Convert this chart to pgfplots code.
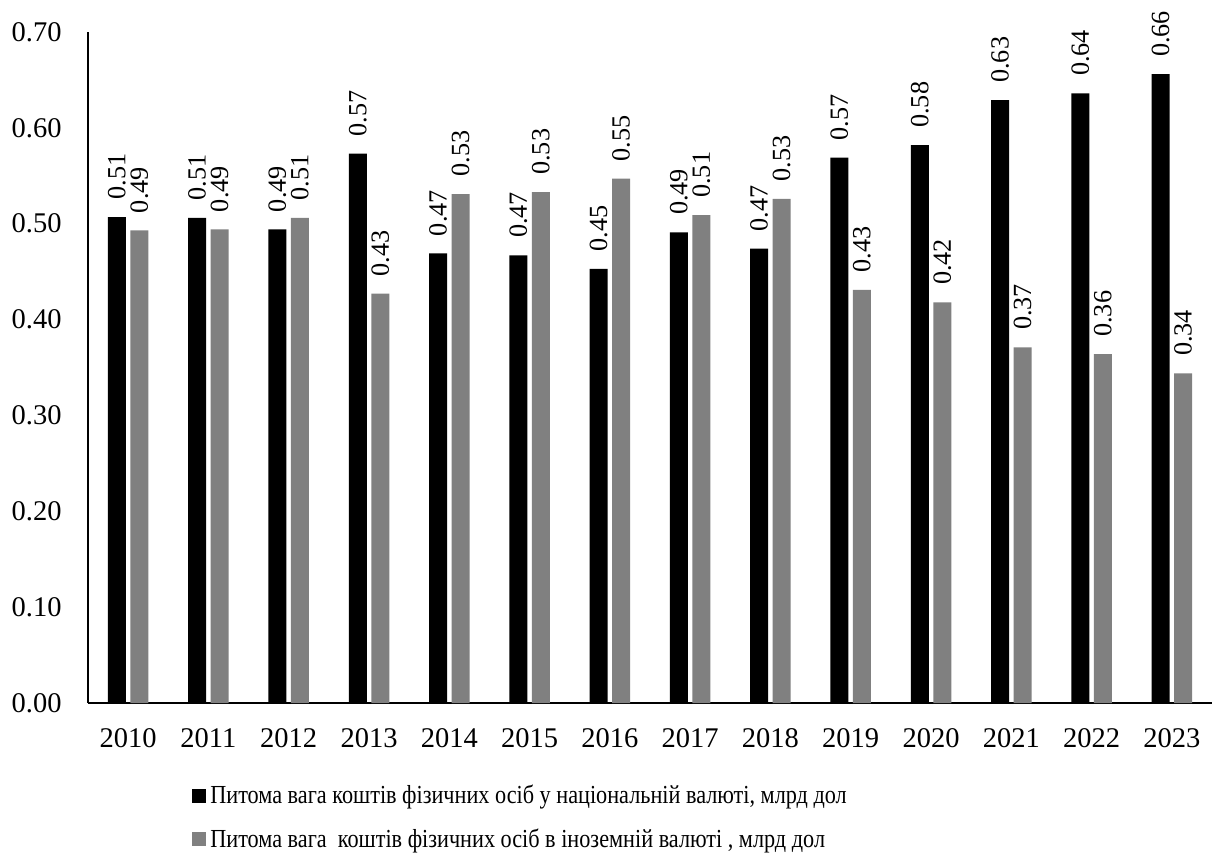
\documentclass[border=0pt]{standalone}
\usepackage{pgfplots}
\pgfplotsset{compat=1.18}
\usepackage{pgfplotstable}
\usepackage{fontspec}
\setmainfont{Liberation Serif}
\newfontfamily\tnr{Liberation Serif}
\newfontfamily\tnrc[FakeStretch=0.855]{Liberation Serif}
\usetikzlibrary{calc}

\pgfplotstableread{
x a b
0 0.507 0.493
1 0.506 0.494
2 0.494 0.506
3 0.573 0.427
4 0.469 0.531
5 0.467 0.533
6 0.453 0.547
7 0.491 0.509
8 0.474 0.526
9 0.569 0.431
10 0.582 0.418
11 0.629 0.371
12 0.636 0.364
13 0.656 0.344
}\data

\definecolor{grayb}{HTML}{808080}

\begin{document}
\begin{tikzpicture}
\begin{axis}[
  scale only axis, width=562bp, height=335.5bp,
  xmin=-0.5, xmax=13.5, ymin=0, ymax=0.7,
  ybar=2.25bp, bar width=9bp,
  axis lines=left, axis line style={-, line width=0.75bp},
  major tick length=0pt,
  xtick={0,...,13},
  xticklabels={2010,2011,2012,2013,2014,2015,2016,2017,2018,2019,2020,2021,2022,2023},
  ytick={0,0.1,...,0.7},
  /pgf/number format/assume math mode=true,
  yticklabel style={/pgf/number format/fixed, /pgf/number format/precision=2, /pgf/number format/fixed zerofill, inner sep=0pt, xshift=-13bp},
  xticklabel style={inner sep=0pt, yshift=-12.5bp},
  tick label style={font=\tnr\fontsize{14.25bp}{17bp}\selectfont},
  nodes near coords,
  nodes near coords style={rotate=90, anchor=west, inner xsep=8.5bp, inner ysep=0pt,
    font=\tnr\fontsize{13.1bp}{15bp}\selectfont,
    /pgf/number format/fixed, /pgf/number format/precision=2, /pgf/number format/fixed zerofill, /pgf/number format/assume math mode=true},
  legend style={at={(axis description cs:0.0925,-0.1706)}, anchor=west, draw=none, fill=none,
    inner sep=0pt, row sep=7bp, font=\tnrc\fontsize{13bp}{15bp}\selectfont},
  legend cell align=left,
  clip=false,
]
\addplot[fill=black, draw=none, legend image code/.code={\fill[black] (0bp,-3.5bp) rectangle (7bp,3.5bp);}] table[x=x,y=a]{\data};
\addplot[fill=grayb, draw=none, legend image code/.code={\fill[grayb] (0bp,-3.5bp) rectangle (7bp,3.5bp);}] table[x=x,y=b]{\data};
\legend{{Питома вага коштів фізичних осіб у національній валюті, млрд дол}, {Питома вага\ \ коштів фізичних осіб в іноземній валюті , млрд дол}}
\end{axis}
\pgfresetboundingbox
\path[use as bounding box] ($(current axis.south west)+(-44bp,-78bp)$) rectangle ($(current axis.north east)+(2bp,16bp)$);
\end{tikzpicture}
\end{document}
